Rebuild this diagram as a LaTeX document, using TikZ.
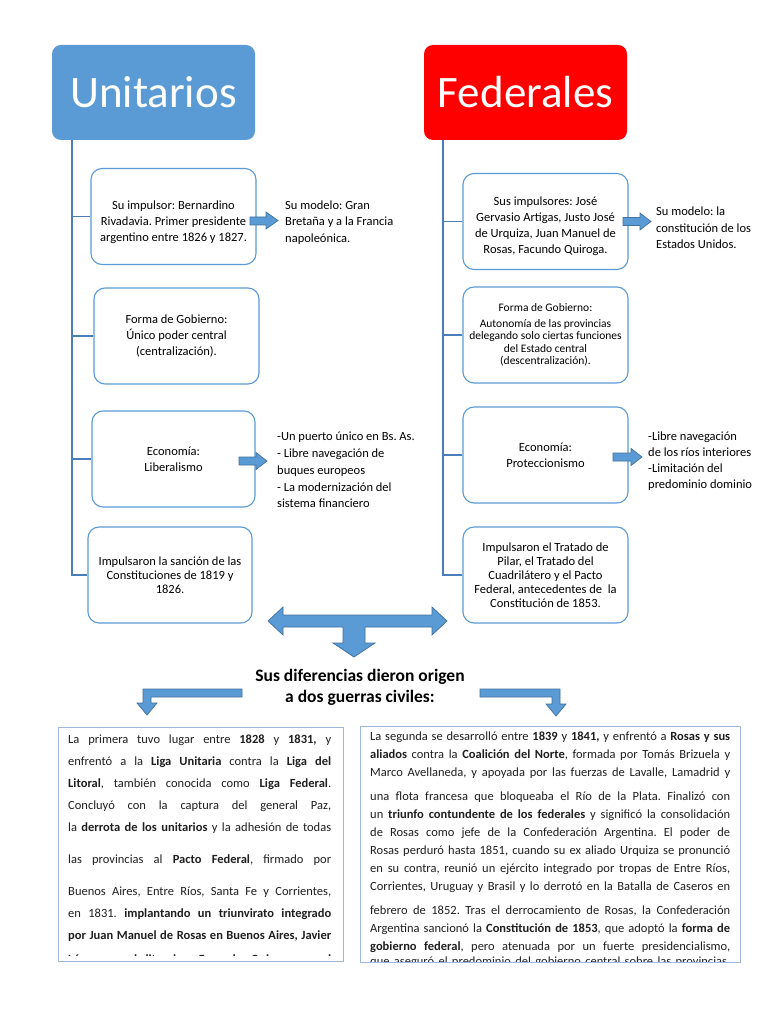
\documentclass[tikz,border=0pt]{standalone}
\usepackage{fontspec}
\setmainfont{Carlito}
\frenchspacing
\definecolor{ublue}{HTML}{5B9BD5}
\definecolor{adark}{HTML}{41719C}
\definecolor{lineblue}{HTML}{4A7EBB}
\definecolor{tboxc}{HTML}{9DB9DA}
\definecolor{fred}{HTML}{FF0000}
\begin{document}
\begin{tikzpicture}[x=1pt,y=-1pt,
 hdr/.style={rounded corners=9pt, minimum width=203pt, minimum height=95pt, inner sep=0pt, text=white, font=\fontsize{45}{50}\selectfont},
 ibox/.style={draw=ublue, line width=1.1pt, rounded corners=11pt, minimum width=165pt, minimum height=96pt, inner sep=2pt, align=center, font=\fontsize{12.5}{16}\selectfont},
 conn/.style={draw=lineblue, line width=1.1pt},
 barrow/.style={fill=ublue, draw=adark, line width=0.7pt, line join=miter},
 side/.style={anchor=west, align=left, inner sep=0pt, font=\fontsize{12.5}{16.5}\selectfont},
 tbox/.style={draw=tboxc, line width=0.9pt, inner sep=0pt},
 lline/.style={anchor=base west, inner sep=0pt, font=\fontsize{12.5}{15}\selectfont, text=black!88},
 ttl/.style={align=center, inner sep=0pt, font=\bfseries\fontsize{17.5}{21}\selectfont}
]
\useasboundingbox (0,0) rectangle (768,1024);
\fill[white] (0,0) rectangle (768,1024);

% headers
\node[hdr, fill=ublue] (U) at (153.5,92.5) {Unitarios};
\node[hdr, fill=fred] (F) at (525.5,92.5) {Federales};

% left boxes
\node[ibox] (u1) at (173.5,216.5) {\rule{0pt}{21pt}Su impulsor: Bernardino\\ Rivadavia. Primer presidente\\ argentino entre 1826 y 1827.};
\node[ibox] (u2) at (176.5,336) {Forma de Gobierno:\\ Único poder central\\ (centralización).};
\node[ibox, minimum width=163pt] (u3) at (173.5,459) {Economía:\\ Liberalismo};
\node[ibox, minimum width=164pt, font=\fontsize{12.5}{14}\selectfont] (u4) at (170,575) {Impulsaron la sanción de las\\ Constituciones de 1819 y\\ 1826.};

% right boxes
\node[ibox] (f1) at (545.5,221.5) {\rule{0pt}{19pt}Sus impulsores: José\\ Gervasio Artigas, Justo José\\ de Urquiza, Juan Manuel de\\ Rosas, Facundo Quiroga.};
\node[ibox, font=\fontsize{11.5}{12.5}\selectfont] (f2) at (545.5,335) {Forma de Gobierno:\\[3.5pt] Autonomía de las provincias\\ delegando solo ciertas funciones\\ del Estado central\\ (descentralización).};
\node[ibox] (f3) at (545.5,455) {Economía:\\ Proteccionismo};
\node[ibox, font=\fontsize{12.5}{14}\selectfont] (f4) at (545.5,575) {Impulsaron el Tratado de\\ Pilar, el Tratado del\\ Cuadrilátero y el Pacto\\ Federal, antecedentes de~ la\\ Constitución de 1853.};

% connectors
\coordinate (uv) at (72,140);
\coordinate (fv) at (443,140);
\draw[conn] (uv) |- (u4.west);
\draw[conn] (u1.west) -- (u1.west -| uv);
\draw[conn] (u2.west) -- (u2.west -| uv);
\draw[conn] (u3.west) -- (u3.west -| uv);
\draw[conn] (fv) |- (f4.west);
\draw[conn] (f1.west) -- (f1.west -| fv);
\draw[conn] (f2.west) -- (f2.west -| fv);
\draw[conn] (f3.west) -- (f3.west -| fv);

% side texts
\node[side] (us1) at (285,222.5) {Su modelo: Gran\\ Bretaña y a la Francia\\ napoleónica.};
\node[side, font=\fontsize{12.5}{16.8}\selectfont] (us3) at (277,470) {-Un puerto único en Bs. As.\\ - Libre navegación de\\ buques europeos\\ - La modernización del\\ sistema financiero};
\node[side] (fs1) at (656,228) {Su modelo: la\\ constitución de los\\ Estados Unidos.};
\node[side, font=\fontsize{12.5}{16}\selectfont] (fs3) at (648,461) {-Libre navegación\\ de los ríos interiores\\ -Limitación del\\ predominio dominio};

% small block arrows
\path[barrow] (250,217)--(266,217)--(266,212)--(278,220.5)--(266,229)--(266,225)--(250,225)--cycle;
\path[barrow] (239,457)--(256,457)--(256,452.5)--(267,461)--(256,469.5)--(256,465)--(239,465)--cycle;
\path[barrow] (623,217.5)--(640,217.5)--(640,213)--(651,221.5)--(640,230)--(640,225.5)--(623,225.5)--cycle;
\path[barrow] (613,453)--(631,453)--(631,448.5)--(642,457)--(631,465.5)--(631,461)--(613,461)--cycle;

% double arrow with down arrow
\path[barrow] (268,621)--(283,607)--(283,615)--(432,615)--(432,607)--(447,621)--(432,635)--(432,627)--(365,627)--(365,643)--(375,643)--(354,657)--(333,643)--(343,643)--(343,627)--(283,627)--(283,635)--cycle;

% title
\node[ttl] (title) at (360,687.5) {Sus diferencias dieron origen\\ a dos guerras civiles:};

% bent arrows
\path[barrow] (242,689)--(143,689)--(143,703)--(137,703)--(147,715)--(157,703)--(151,703)--(151,697)--(242,697)--cycle;
\path[barrow] (480,689)--(560,689)--(560,704)--(566,704)--(556,716)--(546,704)--(552,704)--(552,697)--(480,697)--cycle;

% left text box
\begin{scope}
\clip (58,727) rectangle (343,955);
\node[lline] (l1) at (68,743) {\makebox[263pt][s]{La primera tuvo lugar entre \textbf{1828} y \textbf{1831,} y}};
\node[lline] (l2) at (68,765) {\makebox[263pt][s]{enfrentó a la \textbf{Liga Unitaria} contra la \textbf{Liga del}}};
\node[lline] (l3) at (68,787) {\makebox[263pt][s]{\textbf{Litoral}, también conocida como \textbf{Liga Federal}.}};
\node[lline] (l4) at (68,809) {\makebox[263pt][s]{Concluyó con la captura del general Paz,}};
\node[lline] (l5) at (68,831) {\makebox[263pt][s]{la \textbf{derrota de los unitarios} y la adhesión de todas}};
\node[lline] (l6) at (68,863) {\makebox[263pt][s]{las provincias al \textbf{Pacto Federal}, firmado por}};
\node[lline] (l7) at (68,895) {\makebox[263pt][s]{Buenos Aires, Entre Ríos, Santa Fe y Corrientes,}};
\node[lline] (l8) at (68,917) {\makebox[263pt][s]{en 1831. \textbf{implantando un triunvirato integrado}}};
\node[lline] (l9) at (68,939) {\makebox[263pt][s]{\textbf{por Juan Manuel de Rosas en Buenos Aires, Javier}}};
\node[lline] (l10) at (68,963) {\makebox[263pt][s]{\textbf{López en el litoral y Facundo Quiroga en el}}};
\end{scope}
\node[tbox, minimum width=285pt, minimum height=234pt] (lb) at (200.5,844) {};

% right text box
\begin{scope}
\clip (360,726) rectangle (740,961.5);
\node[lline] (r1) at (370,740) {\makebox[360pt][s]{La segunda se desarrolló entre \textbf{1839} y \textbf{1841,} y enfrentó a \textbf{Rosas y sus}}};
\node[lline] (r2) at (370,758) {\makebox[360pt][s]{\textbf{aliados} contra la \textbf{Coalición del Norte}, formada por Tomás Brizuela y}};
\node[lline] (r3) at (370,776) {\makebox[360pt][s]{Marco Avellaneda, y apoyada por las fuerzas de Lavalle, Lamadrid y}};
\node[lline] (r4) at (370,800) {\makebox[360pt][s]{una flota francesa que bloqueaba el Río de la Plata. Finalizó con}};
\node[lline] (r5) at (370,818) {\makebox[360pt][s]{un \textbf{triunfo contundente de los federales} y significó la consolidación}};
\node[lline] (r6) at (370,836) {\makebox[360pt][s]{de Rosas como jefe de la Confederación Argentina. El poder de}};
\node[lline] (r7) at (370,854) {\makebox[360pt][s]{Rosas perduró hasta 1851, cuando su ex aliado Urquiza se pronunció}};
\node[lline] (r8) at (370,872) {\makebox[360pt][s]{en su contra, reunió un ejército integrado por tropas de Entre Ríos,}};
\node[lline] (r9) at (370,890) {\makebox[360pt][s]{Corrientes, Uruguay y Brasil y lo derrotó en la Batalla de Caseros en}};
\node[lline] (r10) at (370,914) {\makebox[360pt][s]{febrero de 1852. Tras el derrocamiento de Rosas, la Confederación}};
\node[lline] (r11) at (370,932) {\makebox[360pt][s]{Argentina sancionó la \textbf{Constitución de 1853}, que adoptó la \textbf{forma de}}};
\node[lline] (r12) at (370,950) {\makebox[360pt][s]{\textbf{gobierno federal}, pero atenuada por un fuerte presidencialismo,}};
\node[lline] (r13) at (370,965) {\makebox[360pt][s]{que aseguró el predominio del gobierno central sobre las provincias.}};
\end{scope}
\node[tbox, minimum width=380pt, minimum height=236pt] (rb) at (550,844) {};
\end{tikzpicture}
\end{document}
